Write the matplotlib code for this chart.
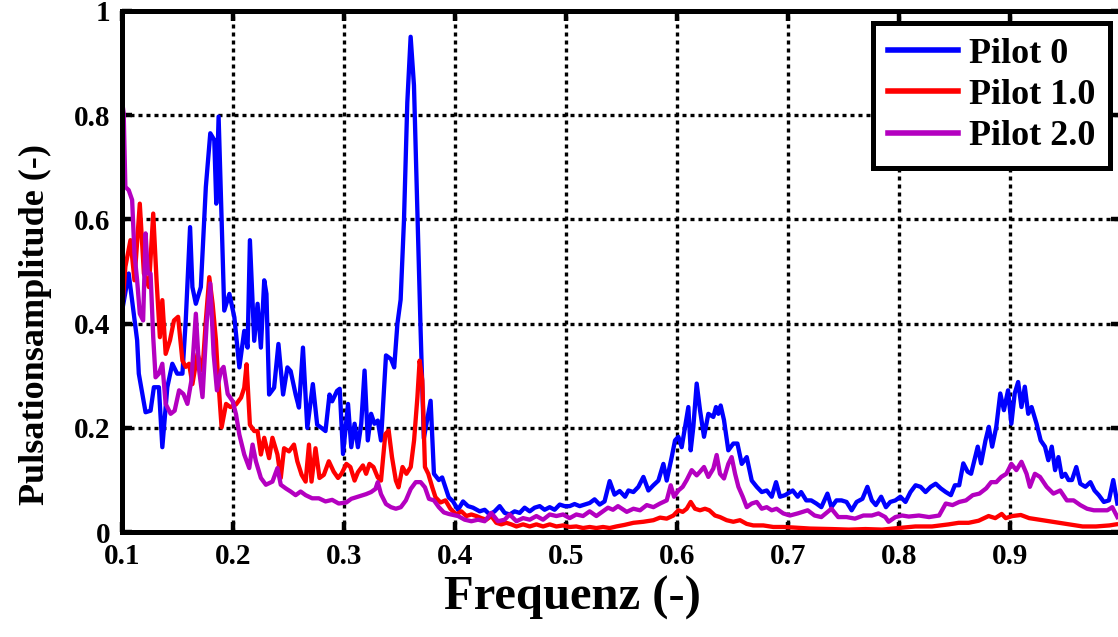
import matplotlib
matplotlib.use("Agg")
import matplotlib.pyplot as plt

# Pilot 0 (blue)
FREQ_P0 = [0.100, 0.1063, 0.1139, 0.1154, 0.1215, 0.126, 0.129, 0.1335, 0.1366, 0.1411,
           0.1456, 0.150, 0.1547, 0.1577, 0.1616, 0.1637, 0.1668, 0.1713, 0.1758, 0.1798,
           0.1834, 0.1852, 0.1873, 0.1924, 0.197, 0.2015, 0.206, 0.2104, 0.2134, 0.2155,
           0.2194, 0.2224, 0.2254, 0.2284, 0.2304, 0.2328, 0.2373, 0.2412, 0.2454, 0.2493,
           0.2522, 0.2567, 0.2597, 0.2633, 0.2672, 0.2722, 0.2761, 0.280, 0.2836, 0.2872,
           0.2896, 0.294, 0.2964, 0.2994, 0.3039, 0.3068, 0.3098, 0.3128, 0.3158, 0.3188,
           0.3217, 0.3247, 0.3277, 0.3307, 0.3336, 0.3381, 0.3426, 0.3455, 0.3484, 0.3513,
           0.3543, 0.3573, 0.3603, 0.3633, 0.3663, 0.3693, 0.3722, 0.3783, 0.3813, 0.3857,
           0.3887, 0.3946, 0.3985, 0.403, 0.4075, 0.412, 0.4165, 0.4225, 0.427, 0.4315,
           0.436, 0.4405, 0.445, 0.4495, 0.454, 0.4585, 0.463, 0.4676, 0.472, 0.4766,
           0.481, 0.4856, 0.49, 0.4946, 0.499, 0.5036, 0.508, 0.5126, 0.517, 0.5216,
           0.526, 0.5306, 0.535, 0.5396, 0.544, 0.5486, 0.5535, 0.5565, 0.561, 0.5655,
           0.570, 0.5745, 0.579, 0.5835, 0.588, 0.591, 0.5955, 0.5985, 0.6015, 0.6045,
           0.6075, 0.6105, 0.6126, 0.615, 0.618, 0.621, 0.6246, 0.6285, 0.633, 0.6354,
           0.6375, 0.6396, 0.6426, 0.6465, 0.651, 0.6547, 0.6586, 0.6631, 0.6676, 0.6721,
           0.6766, 0.6811, 0.6856, 0.6895, 0.6931, 0.6976, 0.7045, 0.709, 0.7121, 0.7167,
           0.7212, 0.7258, 0.7303, 0.7358, 0.7394, 0.7439, 0.7485, 0.753, 0.7576, 0.7621,
           0.7673, 0.7718, 0.7758, 0.7794, 0.7842, 0.7885, 0.7924, 0.797, 0.8015, 0.8061,
           0.8106, 0.8152, 0.8197, 0.8242, 0.8288, 0.8333, 0.8379, 0.8424, 0.847, 0.8506,
           0.8545, 0.8582, 0.8621, 0.8652, 0.8682, 0.8712, 0.8742, 0.8782, 0.8812, 0.8842,
           0.8879, 0.8915, 0.8948, 0.8985, 0.9015, 0.9045, 0.9076, 0.9106, 0.9136, 0.9167,
           0.9197, 0.9242, 0.9279, 0.9318, 0.9348, 0.9379, 0.9409, 0.9439, 0.947, 0.950,
           0.953, 0.9561, 0.960, 0.9636, 0.9682, 0.9727, 0.9764, 0.9803, 0.9848, 0.9894,
           0.9933, 0.997]
AMP_P0 = [0.42, 0.496, 0.368, 0.304, 0.23, 0.233, 0.278, 0.278, 0.163, 0.278,
          0.323, 0.304, 0.304, 0.406, 0.585, 0.47, 0.438, 0.47, 0.662, 0.765,
          0.752, 0.63, 0.797, 0.425, 0.457, 0.412, 0.316, 0.386, 0.354, 0.56,
          0.367, 0.438, 0.354, 0.483, 0.457, 0.264, 0.277, 0.361, 0.264, 0.316,
          0.309, 0.264, 0.239, 0.354, 0.2, 0.284, 0.206, 0.20, 0.194, 0.264,
          0.251, 0.271, 0.275, 0.15, 0.246, 0.163, 0.208, 0.163, 0.208, 0.31,
          0.176, 0.227, 0.208, 0.214, 0.176, 0.339, 0.332, 0.316, 0.40, 0.446,
          0.598, 0.824, 0.95, 0.857, 0.625, 0.386, 0.18, 0.252, 0.112, 0.10,
          0.105, 0.067, 0.059, 0.043, 0.059, 0.05, 0.047, 0.04, 0.043, 0.034,
          0.04, 0.05, 0.037, 0.034, 0.04, 0.037, 0.047, 0.04, 0.047, 0.05,
          0.043, 0.048, 0.043, 0.053, 0.05, 0.05, 0.054, 0.05, 0.053, 0.056,
          0.063, 0.053, 0.059, 0.098, 0.072, 0.079, 0.068, 0.08, 0.077, 0.087,
          0.106, 0.08, 0.09, 0.099, 0.131, 0.099, 0.144, 0.176, 0.183, 0.163,
          0.202, 0.24, 0.157, 0.202, 0.285, 0.234, 0.183, 0.227, 0.221, 0.24,
          0.227, 0.243, 0.215, 0.157, 0.17, 0.17, 0.131, 0.144, 0.099, 0.087,
          0.077, 0.08, 0.068, 0.096, 0.068, 0.071, 0.08, 0.068, 0.077, 0.061,
          0.061, 0.055, 0.048, 0.074, 0.048, 0.061, 0.061, 0.058, 0.042, 0.058,
          0.064, 0.087, 0.061, 0.052, 0.068, 0.048, 0.058, 0.061, 0.068, 0.058,
          0.077, 0.09, 0.087, 0.077, 0.087, 0.093, 0.084, 0.077, 0.071, 0.09,
          0.09, 0.132, 0.116, 0.112, 0.138, 0.164, 0.132, 0.176, 0.202, 0.164,
          0.202, 0.266, 0.234, 0.272, 0.208, 0.266, 0.288, 0.24, 0.279, 0.227,
          0.24, 0.208, 0.176, 0.164, 0.138, 0.164, 0.119, 0.144, 0.106, 0.112,
          0.10, 0.10, 0.125, 0.093, 0.087, 0.096, 0.08, 0.071, 0.058, 0.061,
          0.10, 0.055]

# Pilot 1.0 (red)
FREQ_P1 = [0.100, 0.1033, 0.1079, 0.1115, 0.1163, 0.120, 0.1245, 0.1284, 0.1314, 0.1344,
           0.1366, 0.1396, 0.1435, 0.1471, 0.1508, 0.1547, 0.1577, 0.1607, 0.1637, 0.1683,
           0.1728, 0.1758, 0.1789, 0.1819, 0.1849, 0.1864, 0.190, 0.194, 0.1979, 0.203,
           0.2075, 0.2104, 0.2125, 0.2155, 0.2194, 0.2224, 0.2254, 0.2284, 0.2328, 0.2358,
           0.2403, 0.2433, 0.2463, 0.2507, 0.2552, 0.2582, 0.2621, 0.2657, 0.2687, 0.271,
           0.2746, 0.2782, 0.2821, 0.2866, 0.291, 0.2949, 0.298, 0.3024, 0.306, 0.3098,
           0.3128, 0.3173, 0.3202, 0.3232, 0.3268, 0.3307, 0.3336, 0.3375, 0.3405, 0.3435,
           0.347, 0.3494, 0.353, 0.3565, 0.3604, 0.3634, 0.3664, 0.3684, 0.3708, 0.3732,
           0.3762, 0.3798, 0.3827, 0.3872, 0.3917, 0.3961, 0.4015, 0.406, 0.4105, 0.415,
           0.4195, 0.424, 0.4285, 0.433, 0.4375, 0.442, 0.4465, 0.451, 0.4556, 0.4616,
           0.4676, 0.4736, 0.4796, 0.4856, 0.4916, 0.4976, 0.5036, 0.5096, 0.5156, 0.5216,
           0.5276, 0.5336, 0.5396, 0.5456, 0.553, 0.561, 0.570, 0.579, 0.585, 0.591,
           0.597, 0.6015, 0.6054, 0.609, 0.6126, 0.6165, 0.621, 0.6255, 0.6294, 0.6345,
           0.639, 0.645, 0.651, 0.657, 0.663, 0.669, 0.678, 0.687, 0.696, 0.705,
           0.720, 0.740, 0.755, 0.770, 0.785, 0.800, 0.815, 0.830, 0.845, 0.854,
           0.863, 0.872, 0.881, 0.887, 0.8928, 0.8964, 0.9024, 0.910, 0.9175, 0.9265,
           0.9355, 0.9446, 0.9536, 0.9657, 0.9777, 0.9898, 0.9958]
AMP_P1 = [0.413, 0.509, 0.56, 0.483, 0.63, 0.496, 0.47, 0.611, 0.483, 0.374,
          0.445, 0.342, 0.368, 0.406, 0.413, 0.329, 0.317, 0.323, 0.284, 0.342,
          0.31, 0.406, 0.489, 0.438, 0.368, 0.31, 0.201, 0.246, 0.24, 0.245,
          0.258, 0.277, 0.322, 0.206, 0.194, 0.194, 0.149, 0.181, 0.142, 0.181,
          0.149, 0.104, 0.161, 0.155, 0.168, 0.136, 0.11, 0.097, 0.168, 0.097,
          0.161, 0.104, 0.11, 0.136, 0.116, 0.104, 0.112, 0.131, 0.125, 0.099,
          0.115, 0.128, 0.112, 0.131, 0.125, 0.105, 0.099, 0.188, 0.195, 0.144,
          0.099, 0.086, 0.125, 0.112, 0.125, 0.176, 0.259, 0.329, 0.291, 0.125,
          0.112, 0.086, 0.067, 0.057, 0.061, 0.045, 0.034, 0.04, 0.031, 0.034,
          0.031, 0.027, 0.024, 0.031, 0.018, 0.015, 0.018, 0.015, 0.011, 0.015,
          0.011, 0.015, 0.011, 0.015, 0.011, 0.013, 0.01, 0.011, 0.008, 0.01,
          0.008, 0.01, 0.008, 0.011, 0.014, 0.018, 0.02, 0.023, 0.028, 0.026,
          0.032, 0.042, 0.039, 0.045, 0.058, 0.045, 0.042, 0.045, 0.042, 0.032,
          0.029, 0.023, 0.02, 0.023, 0.016, 0.013, 0.013, 0.01, 0.01, 0.009,
          0.007, 0.006, 0.005, 0.006, 0.005, 0.008, 0.011, 0.011, 0.015, 0.018,
          0.018, 0.022, 0.031, 0.027, 0.035, 0.027, 0.031, 0.033, 0.027, 0.024,
          0.021, 0.018, 0.015, 0.011, 0.011, 0.013, 0.015]

# Pilot 2.0 (purple)
FREQ_P2 = [0.100, 0.1018, 0.1033, 0.1063, 0.1094, 0.1115, 0.1139, 0.1163, 0.1193, 0.1215,
           0.1236, 0.126, 0.1284, 0.1305, 0.1335, 0.1366, 0.1396, 0.1441, 0.1477, 0.1517,
           0.1556, 0.1592, 0.1628, 0.1668, 0.1698, 0.1728, 0.1767, 0.1798, 0.1828, 0.1858,
           0.1894, 0.1918, 0.1955, 0.200, 0.203, 0.206, 0.2104, 0.2149, 0.2179, 0.2209,
           0.2254, 0.2299, 0.2358, 0.2403, 0.2433, 0.2478, 0.2522, 0.2567, 0.2612, 0.2657,
           0.2716, 0.2776, 0.2836, 0.2896, 0.2955, 0.3024, 0.3068, 0.3113, 0.3158, 0.3202,
           0.3247, 0.3286, 0.3307, 0.3336, 0.3381, 0.3426, 0.347, 0.3515, 0.356, 0.3604,
           0.3649, 0.3693, 0.3732, 0.3768, 0.3813, 0.3857, 0.3902, 0.3946, 0.4006, 0.403,
           0.409, 0.415, 0.421, 0.427, 0.433, 0.439, 0.445, 0.4495, 0.4556, 0.4616,
           0.4676, 0.4736, 0.4796, 0.4856, 0.4916, 0.4976, 0.5036, 0.5096, 0.5156, 0.5216,
           0.5276, 0.5336, 0.5381, 0.5426, 0.5471, 0.555, 0.561, 0.567, 0.573, 0.579,
           0.585, 0.591, 0.5946, 0.5976, 0.6015, 0.6054, 0.609, 0.6135, 0.618, 0.621,
           0.6246, 0.6285, 0.633, 0.636, 0.639, 0.6426, 0.6465, 0.6495, 0.6526, 0.6556,
           0.6595, 0.6631, 0.6676, 0.6721, 0.6766, 0.6811, 0.6856, 0.690, 0.696, 0.702,
           0.709, 0.718, 0.7242, 0.7303, 0.7394, 0.7455, 0.753, 0.7606, 0.7682, 0.7758,
           0.7818, 0.7879, 0.7909, 0.797, 0.803, 0.8091, 0.8182, 0.8273, 0.8364, 0.8424,
           0.8485, 0.8545, 0.8606, 0.8667, 0.8727, 0.8788, 0.8833, 0.8879, 0.8924, 0.897,
           0.9015, 0.906, 0.9106, 0.9152, 0.9182, 0.9227, 0.9273, 0.9333, 0.9394, 0.9455,
           0.9515, 0.9576, 0.9636, 0.9697, 0.9758, 0.9818, 0.9879, 0.9924, 0.997]
AMP_P2 = [0.832, 0.803, 0.662, 0.656, 0.637, 0.534, 0.483, 0.419, 0.406, 0.573,
          0.496, 0.496, 0.374, 0.297, 0.304, 0.323, 0.246, 0.227, 0.233, 0.272,
          0.265, 0.246, 0.291, 0.419, 0.31, 0.259, 0.406, 0.477, 0.342, 0.272,
          0.31, 0.317, 0.265, 0.251, 0.226, 0.187, 0.149, 0.123, 0.168, 0.136,
          0.104, 0.091, 0.097, 0.123, 0.091, 0.084, 0.078, 0.071, 0.078, 0.071,
          0.065, 0.065, 0.059, 0.062, 0.055, 0.057, 0.064, 0.067, 0.07, 0.073,
          0.077, 0.083, 0.096, 0.073, 0.054, 0.048, 0.045, 0.048, 0.061, 0.083,
          0.096, 0.096, 0.086, 0.064, 0.061, 0.048, 0.038, 0.035, 0.032, 0.031,
          0.024, 0.021, 0.024, 0.021, 0.037, 0.021, 0.024, 0.034, 0.021, 0.027,
          0.024, 0.031, 0.024, 0.034, 0.031, 0.034, 0.027, 0.034, 0.031, 0.04,
          0.031, 0.04, 0.047, 0.043, 0.05, 0.039, 0.045, 0.042, 0.052, 0.048,
          0.055, 0.061, 0.09, 0.068, 0.08, 0.087, 0.10, 0.119, 0.109, 0.116,
          0.125, 0.106, 0.122, 0.148, 0.112, 0.103, 0.131, 0.144, 0.112, 0.087,
          0.068, 0.048, 0.055, 0.058, 0.045, 0.048, 0.042, 0.045, 0.036, 0.032,
          0.036, 0.042, 0.032, 0.029, 0.045, 0.029, 0.029, 0.026, 0.032, 0.032,
          0.036, 0.029, 0.02, 0.029, 0.032, 0.03, 0.032, 0.029, 0.032, 0.055,
          0.052, 0.058, 0.061, 0.071, 0.074, 0.084, 0.096, 0.096, 0.106, 0.112,
          0.131, 0.119, 0.135, 0.112, 0.087, 0.112, 0.106, 0.087, 0.074, 0.08,
          0.061, 0.061, 0.052, 0.045, 0.042, 0.042, 0.042, 0.048, 0.029]

SERIES_LABELS = ["Pilot 0", "Pilot 1.0", "Pilot 2.0"]
X_TICKS = [0.1, 0.2, 0.3, 0.4, 0.5, 0.6, 0.7, 0.8, 0.9, 1.0]
X_TICK_LABELS = ["0.1", "0.2", "0.3", "0.4", "0.5", "0.6", "0.7", "0.8", "0.9", ""]
Y_TICKS = [0, 0.2, 0.4, 0.6, 0.8, 1.0]
Y_TICK_LABELS = ["0", "0.2", "0.4", "0.6", "0.8", "1"]

plt.rcParams["font.family"] = ["Liberation Serif", "DejaVu Serif"]
plt.rcParams["font.weight"] = "bold"

W, H = 1118, 637
fig = plt.figure(figsize=(W / 100, H / 100), dpi=100)
# the right spine of the original sits just outside the picture
ax = fig.add_axes([121.7 / W, 104.8 / H, 999.0 / W, 521.5 / H])

colors = ["#0000ff", "#ff0000", "#b400c0"]
for fx, amp, lab, c in zip([FREQ_P0, FREQ_P1, FREQ_P2], [AMP_P0, AMP_P1, AMP_P2],
                           SERIES_LABELS, colors):
    ax.plot(fx, amp, color=c, lw=3.1, label=lab, solid_joinstyle="round")

ax.set_xlim(0.1, 1.0)
ax.set_ylim(0, 1)
ax.set_xticks(X_TICKS)
ax.set_xticklabels(X_TICK_LABELS)
ax.set_yticks(Y_TICKS)
ax.set_yticklabels(Y_TICK_LABELS)
ax.tick_params(direction="in", length=7, width=3.2, top=True, right=True,
               labelsize=21, pad=8)
for sp in ax.spines.values():
    sp.set_linewidth(3.6)
ax.grid(True, color="black", linestyle=(0, (1.2, 1.2)), linewidth=2.4)
ax.set_axisbelow(True)

ax.set_xlabel("Frequenz (-)", fontsize=35, fontweight="bold")
ax.xaxis.set_label_coords((572 - 121.7) / 999.0, (532.2 - 576) / 521.5)
ax.set_ylabel("Pulsationsamplitude (-)", fontsize=26, fontweight="bold")
ax.yaxis.set_label_coords((52 - 121.7) / 999.0, (532.2 - 325) / 521.5)

leg = ax.legend(loc="upper right", bbox_to_anchor=(1110 / W, 1 - 23 / H),
                bbox_transform=fig.transFigure, borderaxespad=0,
                fancybox=False, framealpha=1, edgecolor="black",
                handlelength=1.95, handletextpad=0.3, labelspacing=0.22,
                borderpad=0.4, prop={"weight": "bold", "size": 26})
leg.get_frame().set_linewidth(3.6)
for line in leg.get_lines():
    line.set_linewidth(4)

fig.savefig("out.png", dpi=100)
